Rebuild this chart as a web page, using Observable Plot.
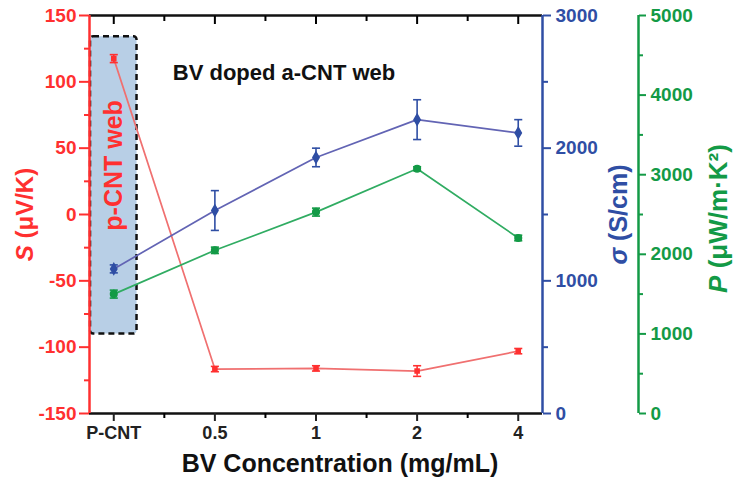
<!DOCTYPE html>
<html><head><meta charset="utf-8">
<script src="https://cdn.jsdelivr.net/npm/d3@7"></script>
<script src="https://cdn.jsdelivr.net/npm/@observablehq/plot@0.6"></script>
<style>
body{margin:0;background:#fff}
svg{font-family:"Liberation Sans",Arial,sans-serif}
</style>
</head><body><div id="chart"></div>
<script>
// ---- data ----
const categories = ["P-CNT", "0.5", "1", "2", "4"];
const seebeck = [117.5, -116.5, -116, -118, -103];     // S (µV/K)
const seebeckErr = [3, 2, 2, 4, 2];
const sigma = [1090, 1530, 1930, 2215, 2115];           // σ (S/cm)
const sigmaErr = [30, 150, 70, 150, 100];
const power = [1500, 2050, 2530, 3075, 2205];           // P (µW/m·K²)
const powerErr = [50, 40, 50, 25, 35];
const sTicks = [-150, -100, -50, 0, 50, 100, 150];
const sMinor = [-125, -75, -25, 25, 75, 125];
const sigmaTicks = [0, 1000, 2000, 3000];
const sigmaMinor = [500, 1500, 2500];
const powerTicks = [0, 1000, 2000, 3000, 4000, 5000];
const powerMinor = [500, 1500, 2500, 3500, 4500];
const highlightLabel = "p-CNT web";
const highlightRange = [-90, 134];   // S units spanned by the shaded box
const highlightLabelAt = 37;
const title = "BV doped a-CNT web";
const xTitle = "BV Concentration (mg/mL)";

// ---- styles ----
const RED = "#ff3030", RED_LINE = "#f07070";
const BLUE = "#2f4ea4", BLUE_LINE = "#6264b4";
const GREEN = "#139a46", GREEN_LINE = "#30ac62";
const FONT = "Liberation Sans, Arial, sans-serif";

const sDomain = [-150, 150];
const xDomain = [-0.24, categories.length - 1 + 0.24];
const sigmaToS = d3.scaleLinear([0, 3000], sDomain);
const powerToS = d3.scaleLinear([0, 5000], sDomain);

const rows = categories.map((c, i) => ({
  i, c,
  s: seebeck[i], sLo: seebeck[i] - seebeckErr[i], sHi: seebeck[i] + seebeckErr[i],
  g: sigmaToS(sigma[i]), gLo: sigmaToS(sigma[i] - sigmaErr[i]), gHi: sigmaToS(sigma[i] + sigmaErr[i]),
  p: powerToS(power[i]), pLo: powerToS(power[i] - powerErr[i]), pHi: powerToS(power[i] + powerErr[i])
}));
const idx = categories.map((c, i) => i);
const halfIdx = idx.slice(0, -1).map(i => i + 0.5);
const cap = 0.04, boxHalf = 0.23;

function series(key, lo, hi, lineColor, markColor, symbol, r) {
  return [
    Plot.line(rows, {x: "i", y: key, stroke: lineColor, strokeWidth: 1.7}),
    Plot.ruleX(rows, {x: "i", y1: lo, y2: hi, stroke: markColor, strokeWidth: 1.6}),
    Plot.link(rows, {x1: d => d.i - cap, x2: d => d.i + cap, y1: lo, y2: lo, stroke: markColor, strokeWidth: 1.6}),
    Plot.link(rows, {x1: d => d.i - cap, x2: d => d.i + cap, y1: hi, y2: hi, stroke: markColor, strokeWidth: 1.6}),
    Plot.dot(rows, {x: "i", y: key, symbol, r, fill: markColor, stroke: markColor})
  ];
}
const axisText = {fontSize: 19, fontWeight: "bold", fontFamily: FONT, label: null};
const rotLabel = {rotate: -90, textAnchor: "middle", fontWeight: "bold", fontFamily: FONT};

const chart = Plot.plot({
  width: 737, height: 492,
  marginLeft: 89, marginRight: 195, marginTop: 15, marginBottom: 79,
  x: {type: "linear", domain: xDomain},
  y: {domain: sDomain},
  marks: [
    // highlight box
    Plot.rect([0], {x1: d => d - boxHalf, x2: d => d + boxHalf, y1: highlightRange[0], y2: highlightRange[1],
      fill: "#b8cfe6", stroke: "#111", strokeWidth: 2.5, strokeDasharray: "6,4", rx: 3}),
    Plot.text([highlightLabel], {x: 0, y: highlightLabelAt, rotate: -90, fill: RED, fontSize: 25,
      fontWeight: "bold", fontFamily: FONT}),
    ...series("s", "sLo", "sHi", RED_LINE, RED, "square", 2.3),
    ...series("g", "gLo", "gHi", BLUE_LINE, BLUE, "diamond", 3.3),
    ...series("p", "pLo", "pHi", GREEN_LINE, GREEN, "circle", 3.3),
    // frame lines
    Plot.ruleY(sDomain, {stroke: "#111", strokeWidth: 2.5}),
    Plot.ruleX([xDomain[0]], {stroke: RED, strokeWidth: 2.5}),
    Plot.ruleX([xDomain[1]], {stroke: BLUE, strokeWidth: 2.5}),
    Plot.ruleX([xDomain[1]], {stroke: GREEN, strokeWidth: 2.5, dx: 96}),
    // x axis
    Plot.axisX(idx, {anchor: "bottom", tickSize: 8, tickPadding: 5, strokeWidth: 2, color: "#222",
      tickFormat: i => categories[i], ...axisText}),
    Plot.axisX(halfIdx, {anchor: "bottom", tickSize: 5, strokeWidth: 2, tickFormat: () => "", label: null}),
    Plot.axisX(idx, {anchor: "top", tickSize: 8, dy: 8, strokeWidth: 2, tickFormat: () => "", label: null}),
    Plot.axisX(halfIdx, {anchor: "top", tickSize: 5, dy: 5, strokeWidth: 2, tickFormat: () => "", label: null}),
    // left S axis
    Plot.axisY(sTicks, {anchor: "left", tickSize: 10, tickPadding: 3, strokeWidth: 2, color: RED,
      tickFormat: v => String(v), ...axisText}),
    Plot.axisY(sMinor, {anchor: "left", tickSize: 5, strokeWidth: 2, color: RED, tickFormat: () => "", label: null}),
    // right sigma axis
    Plot.axisY(sigmaTicks.map(sigmaToS), {anchor: "right", tickSize: 8, tickPadding: 5, strokeWidth: 2, color: BLUE,
      tickFormat: v => String(Math.round(sigmaToS.invert(v))), ...axisText}),
    Plot.axisY(sigmaMinor.map(sigmaToS), {anchor: "right", tickSize: 5, strokeWidth: 2, color: BLUE, tickFormat: () => "", label: null}),
    // right power axis
    Plot.axisY(powerTicks.map(powerToS), {anchor: "right", dx: 96, tickSize: 7, tickPadding: 5, strokeWidth: 2, color: GREEN,
      tickFormat: v => String(Math.round(powerToS.invert(v))), ...axisText}),
    Plot.axisY(powerMinor.map(powerToS), {anchor: "right", dx: 96, tickSize: 4, strokeWidth: 2, color: GREEN, tickFormat: () => "", label: null}),
    // axis titles
    Plot.text(["S (μV/K)"], {frameAnchor: "left", dx: -64, fill: RED, fontSize: 24, ...rotLabel}),
    Plot.text(["σ (S/cm)"], {frameAnchor: "right", dx: 76, fill: BLUE, fontSize: 25, ...rotLabel}),
    Plot.text(["P (μW/m·K²)"], {frameAnchor: "right", dx: 176, dy: 4, fill: GREEN, fontSize: 26, ...rotLabel}),
    Plot.text([xTitle], {frameAnchor: "bottom", dx: 24, dy: 58, fill: "#111", fontSize: 25, fontWeight: "bold", fontFamily: FONT, letterSpacing: "1.6px"}),
    Plot.text([title], {frameAnchor: "top", dx: -32, dy: 49, fill: "#111", fontSize: 22, fontWeight: "bold", fontFamily: FONT})
  ]
});
// make sure tick labels use the intended size/weight
d3.select(chart).selectAll('g[aria-label="y-axis tick label"]')
  .style("font-size", "19px").style("font-weight", "bold");
d3.select(chart).selectAll('g[aria-label="x-axis tick label"]')
  .style("font-size", "18px").style("font-weight", "bold");
// italic variable symbols in axis titles
d3.select(chart).selectAll("text").each(function() {
  const t = this.textContent;
  const m = /^(S|σ|P)( \(.*\))$/.exec(t);
  if (m) {
    const sel = d3.select(this);
    sel.text(null);
    sel.append("tspan").attr("font-style", "italic").text(m[1]);
    sel.append("tspan").text(m[2]);
  }
});
document.getElementById("chart").append(chart);
</script>
</body></html>
